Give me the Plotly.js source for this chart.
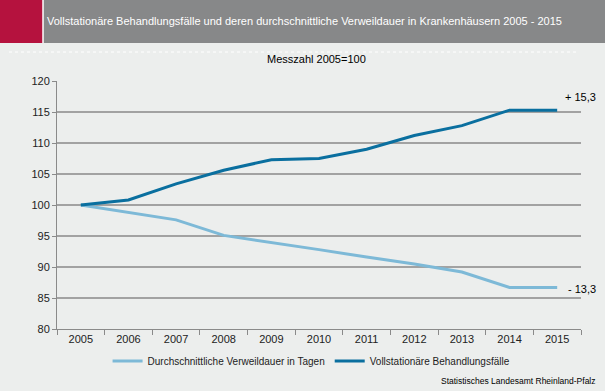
<!DOCTYPE html>
<html><head><meta charset="utf-8">
<script src="https://cdn.plot.ly/plotly-3.0.1.min.js"></script>
<style>html,body{margin:0;padding:0;background:#eceeed;}#chart{width:605px;height:391px;}</style>
</head><body><div id="chart"></div>
<script>
const years = ['2005','2006','2007','2008','2009','2010','2011','2012','2013','2014','2015'];
const verweildauer = [100, 98.8, 97.6, 95.1, 94.0, 92.8, 91.6, 90.5, 89.2, 86.7, 86.7];
const behandlungsfaelle = [100, 100.8, 103.4, 105.6, 107.3, 107.5, 109.0, 111.2, 112.8, 115.3, 115.3];
const seriesNames = ['Durchschnittliche Verweildauer in Tagen', 'Vollstationäre Behandlungsfälle'];
const endLabels = ['- 13,3', '+ 15,3'];
const yTicks = [80, 85, 90, 95, 100, 105, 110, 115, 120];
const yTickText = ['80','85','90','95','100','105','110','115','120'];

const font = 'Liberation Sans, Arial, sans-serif';
const traces = [
  {x: years, y: verweildauer, name: seriesNames[0], type: 'scatter', mode: 'lines',
   line: {color: '#7db9d7', width: 3}},
  {x: years, y: behandlungsfaelle, name: seriesNames[1], type: 'scatter', mode: 'lines',
   line: {color: '#0a6f9f', width: 3}}
];
const layout = {
  width: 605, height: 391,
  paper_bgcolor: '#eceeed', plot_bgcolor: '#eceeed',
  margin: {l: 57, r: 24, t: 81, b: 62},
  font: {family: font, size: 11, color: '#000'},
  showlegend: true,
  legend: {orientation: 'h', xref: 'container', yref: 'container', x: 0.515, xanchor: 'center',
           y: 1 - 361/391, yanchor: 'middle',
           font: {size: 10, color: '#222'}, bgcolor: 'rgba(0,0,0,0)', traceorder: 'normal',
           itemwidth: 30},
  xaxis: {type: 'category', showgrid: false, zeroline: false, showline: true,
          linecolor: '#8a8a8a', linewidth: 1, ticks: 'outside', ticklen: 5, tickcolor: '#8a8a8a',
          tickson: 'boundaries', tickfont: {size: 11, color: '#222'}, range: [-0.5, 10.5], fixedrange: true},
  yaxis: {range: [80, 120], tickvals: yTicks, ticktext: yTickText, showgrid: true,
          gridcolor: '#a2a2a2', gridwidth: 2, zeroline: false, showline: true,
          linecolor: '#8a8a8a', linewidth: 1, ticks: 'outside', ticklen: 4, tickcolor: '#8a8a8a',
          tickfont: {size: 11, color: '#222'}, fixedrange: true},
  shapes: [
    {type: 'rect', xref: 'paper', yref: 'paper', x0: -57/524, x1: 581/524 + 0.1, y0: 1 + 38/248, y1: 1 + 81/248,
     fillcolor: '#878889', line: {width: 0}, layer: 'below'},
    {type: 'rect', xref: 'paper', yref: 'paper', x0: -57/524, x1: -14/524, y0: 1 + 38/248, y1: 1 + 81/248,
     fillcolor: '#b5123e', line: {width: 0}, layer: 'below'},
    {type: 'line', xref: 'paper', yref: 'paper', x0: -14/524, x1: -14/524, y0: 1 + 38/248, y1: 1 + 81/248,
     line: {color: '#ffffff', width: 1.5}},
    {type: 'line', xref: 'paper', yref: 'paper', x0: -48/524, x1: 520/524, y0: 1 + 29/248, y1: 1 + 29/248,
     line: {color: '#ffffff', width: 1, dash: 'dot'}}
  ],
  annotations: [
    {text: 'Vollstationäre Behandlungsfälle und deren durchschnittliche Verweildauer in Krankenhäusern 2005 - 2015',
     xref: 'paper', yref: 'paper', x: -12/524, y: 1 + 60/248, xanchor: 'left', yanchor: 'middle',
     showarrow: false, font: {size: 11, color: '#ffffff'}},
    {text: 'Messzahl 2005=100', xref: 'paper', yref: 'paper', x: 259/524, y: 1 + 22/248,
     xanchor: 'center', yanchor: 'middle', showarrow: false, font: {size: 11, color: '#000'}},
    {text: endLabels[1], xref: 'paper', yref: 'y', x: 541/524, y: 117.4,
     xanchor: 'right', yanchor: 'middle', showarrow: false, font: {size: 11, color: '#000'}},
    {text: endLabels[0], xref: 'paper', yref: 'y', x: 541/524, y: 86.5,
     xanchor: 'right', yanchor: 'middle', showarrow: false, font: {size: 11, color: '#000'}},
    {text: 'Statistisches Landesamt Rheinland-Pfalz', xref: 'paper', yref: 'paper', x: 541/524, y: -52/248,
     xanchor: 'right', yanchor: 'middle', showarrow: false, font: {size: 8.5, color: '#000'}}
  ]
};
Plotly.newPlot('chart', traces, layout, {displayModeBar: false, staticPlot: true});
</script></body></html>
